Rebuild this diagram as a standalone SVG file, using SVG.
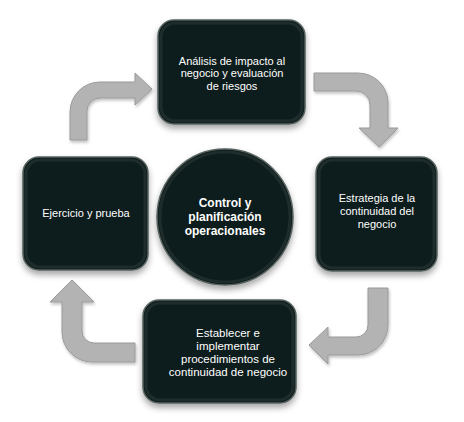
<svg xmlns="http://www.w3.org/2000/svg" width="464" height="422" viewBox="0 0 464 422">
<style>
.box{fill:#0f1b1b;stroke:#56625f;stroke-width:1.5}
.inner{fill:none;stroke:#1f2c2c;stroke-width:3}
.t{font-family:"Liberation Sans",Arial,sans-serif;font-size:11px;fill:#ffffff;text-anchor:middle}
.tb{font-family:"Liberation Sans",Arial,sans-serif;font-size:12px;font-weight:bold;fill:#ffffff;text-anchor:middle}
.arrow{fill:#b3b3b3;stroke:#9a9a9a;stroke-width:1}
</style>
<defs>
<filter id="sh" x="-20%" y="-20%" width="140%" height="150%">
<feDropShadow dx="0" dy="4" stdDeviation="3" flood-color="#000" flood-opacity="0.35"/>
</filter>
<filter id="ash" x="-20%" y="-20%" width="140%" height="140%">
<feDropShadow dx="1" dy="2" stdDeviation="1.5" flood-color="#000" flood-opacity="0.25"/>
</filter>
</defs>
<rect width="464" height="422" fill="#ffffff"/>
<g id="connectors">
<path class="arrow" filter="url(#ash)" d="M70,140 L70,112 A30,30 0 0 1 100,82 L135,82 L135,73 L152,89 L135,105 L135,98 L100,98 A13,13 0 0 0 87,111 L87,140 Z"/>
<path class="arrow" filter="url(#ash)" d="M314,73 L358,73 A30,30 0 0 1 388,103 L388,128 L398,128 L379,147 L359,128 L370,128 L370,105 A14,14 0 0 0 356,91 L314,91 Z"/>
<path class="arrow" filter="url(#ash)" d="M368,288 L388,288 L388,325 A30,30 0 0 1 358,355 L328,355 L328,364 L309,345 L328,327 L328,337 L356,337 A12,12 0 0 0 368,325 Z"/>
<path class="arrow" filter="url(#ash)" d="M72,280 L94,302 L82,302 L82,331 A12,12 0 0 0 94,343 L135,343 L135,362 L92,362 A30,30 0 0 1 62,332 L62,302 L50,302 Z"/>
</g>
<g id="node-analisis">
<rect class="box" filter="url(#sh)" x="158" y="20" width="147" height="104" rx="16"/>
<rect class="inner" x="161" y="23" width="141" height="98" rx="14"/>
<text class="t" x="232" y="65">Análisis  de impacto al</text>
<text class="t" x="232" y="77">negocio y evaluación</text>
<text class="t" x="232" y="90">de riesgos</text>
</g>
<g id="node-estrategia">
<rect class="box" filter="url(#sh)" x="316" y="157" width="121" height="114" rx="16"/>
<rect class="inner" x="319" y="160" width="115" height="108" rx="14"/>
<text class="t" x="377" y="202">Estrategia  de la</text>
<text class="t" x="377" y="215">continuidad del</text>
<text class="t" x="377" y="228">negocio</text>
</g>
<g id="node-establecer">
<rect class="box" filter="url(#sh)" x="143" y="300" width="153" height="103" rx="16"/>
<rect class="inner" x="146" y="303" width="147" height="97" rx="14"/>
<text class="t" x="228" y="337" style="font-size:11.5px">Establecer  e</text>
<text class="t" x="228" y="350" style="font-size:11.5px">implementar</text>
<text class="t" x="228" y="363" style="font-size:11.5px">procedimientos de</text>
<text class="t" x="228" y="376" style="font-size:11.5px">continuidad de negocio</text>
</g>
<g id="node-ejercicio">
<rect class="box" filter="url(#sh)" x="23" y="157" width="125" height="113" rx="16"/>
<rect class="inner" x="26" y="160" width="119" height="107" rx="14"/>
<text class="t" x="86" y="217">Ejercicio  y prueba</text>
</g>
<g id="node-control">
<circle class="box" filter="url(#sh)" cx="225" cy="217" r="68"/>
<circle class="inner" cx="225" cy="217" r="65"/>
<text class="tb" x="225" y="207">Control y</text>
<text class="tb" x="225" y="221">planificación</text>
<text class="tb" x="225" y="235">operacionales</text>
</g>
</svg>
